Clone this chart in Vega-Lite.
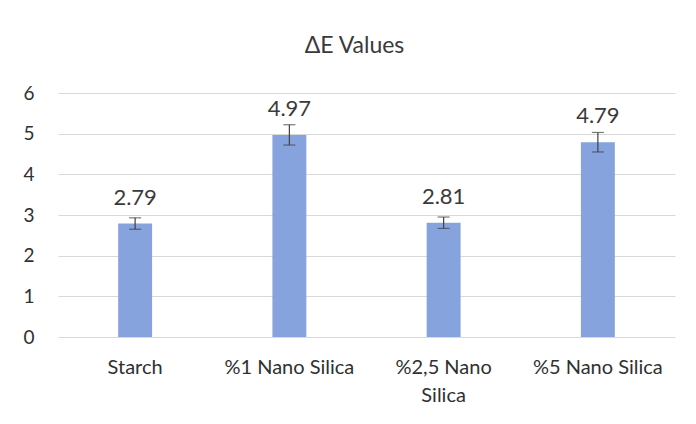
{
  "$schema": "https://vega.github.io/schema/vega-lite/v6.json",
  "width": 617,
  "height": 244,
  "autosize": {"type": "none"},
  "padding": {"left": 58, "top": 93, "right": 21, "bottom": 87},
  "background": "white",
  "title": {
    "text": "ΔE Values",
    "font": "Lato",
    "fontSize": 23,
    "fontWeight": "normal",
    "color": "#3a3a3a",
    "anchor": "middle",
    "dx": -12,
    "offset": 26
  },
  "config": {
    "view": {"stroke": null},
    "font": "Lato"
  },
  "data": {
    "values": [
      {"sample": "Starch", "value": 2.79, "lo": 2.65, "hi": 2.93},
      {"sample": "%1 Nano Silica", "value": 4.97, "lo": 4.72, "hi": 5.22},
      {"sample": "%2,5 Nano Silica", "value": 2.81, "lo": 2.67, "hi": 2.95},
      {"sample": "%5 Nano Silica", "value": 4.79, "lo": 4.55, "hi": 5.03}
    ]
  },
  "encoding": {
    "x": {
      "field": "sample",
      "type": "nominal",
      "sort": null,
      "scale": {"paddingInner": 0.78, "paddingOuter": 0.39},
      "axis": {
        "title": null,
        "domain": false,
        "ticks": false,
        "labelAngle": 0,
        "labelFont": "Lato",
        "labelFontSize": 20,
        "labelColor": "#303030",
        "labelPadding": 20,
        "labelLineHeight": 28,
        "labelExpr": "datum.value == '%2,5 Nano Silica' ? ['%2,5 Nano', 'Silica'] : datum.value"
      }
    }
  },
  "layer": [
    {
      "mark": {"type": "bar", "color": "#86a3de"},
      "encoding": {
        "y": {
          "field": "value",
          "type": "quantitative",
          "scale": {"domain": [0, 6]},
          "axis": {
            "title": null,
            "domain": false,
            "ticks": false,
            "values": [0, 1, 2, 3, 4, 5, 6],
            "gridColor": "#d9d9d9",
            "gridWidth": 1.2,
            "labelFont": "Lato",
            "labelFontSize": 19,
            "labelColor": "#303030",
            "labelPadding": 24
          }
        }
      }
    },
    {
      "mark": {"type": "rule", "color": "#404040", "strokeWidth": 1.2},
      "encoding": {
        "y": {"field": "lo", "type": "quantitative"},
        "y2": {"field": "hi"}
      }
    },
    {
      "mark": {"type": "tick", "color": "#404040", "size": 12, "thickness": 1.2, "orient": "horizontal"},
      "encoding": {
        "y": {"field": "lo", "type": "quantitative"}
      }
    },
    {
      "mark": {"type": "tick", "color": "#404040", "size": 12, "thickness": 1.2, "orient": "horizontal"},
      "encoding": {
        "y": {"field": "hi", "type": "quantitative"}
      }
    },
    {
      "mark": {"type": "text", "baseline": "alphabetic", "dy": -19, "font": "Lato", "fontSize": 22, "color": "#3a3a3a"},
      "encoding": {
        "y": {"field": "value", "type": "quantitative"},
        "text": {"field": "value", "type": "quantitative", "format": ".2f"}
      }
    }
  ]
}
